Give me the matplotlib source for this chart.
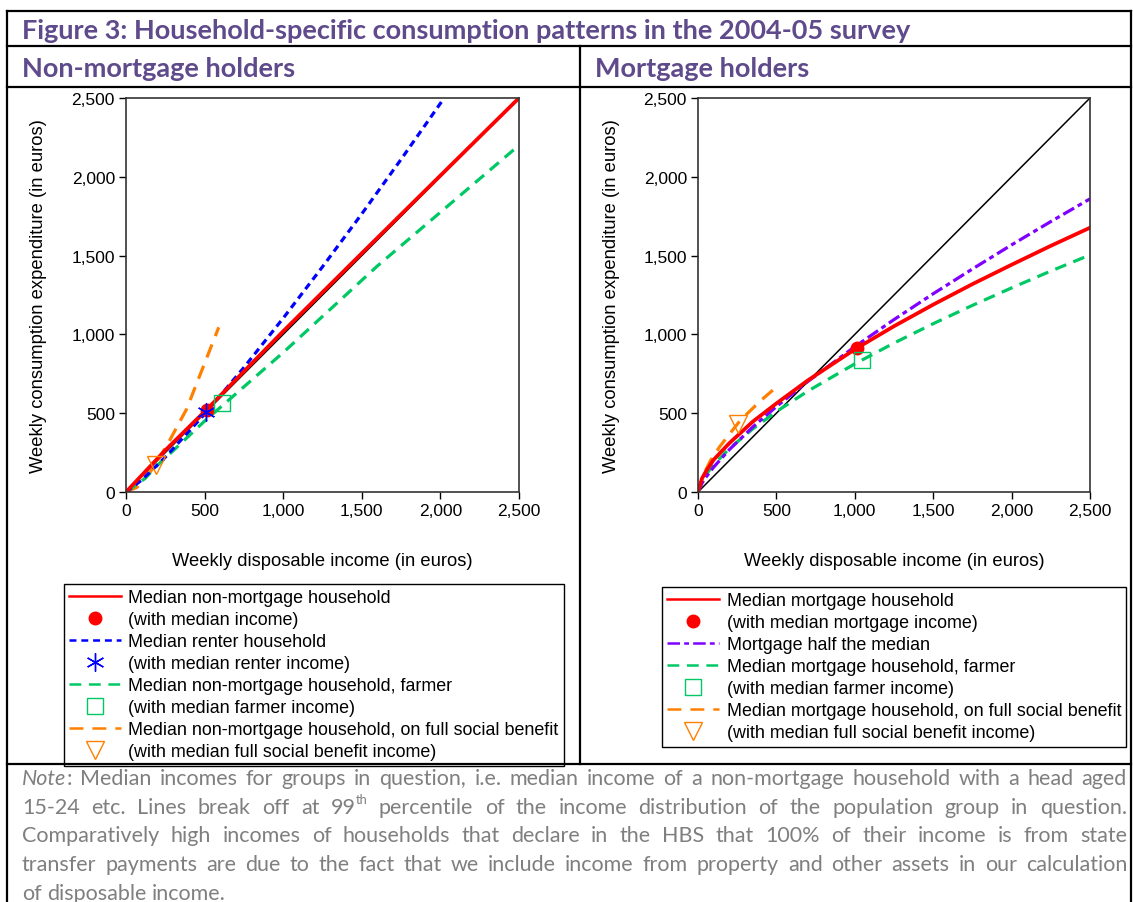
import matplotlib
matplotlib.use("Agg")
import matplotlib.pyplot as plt
from matplotlib.lines import Line2D
from matplotlib.ticker import FuncFormatter

W, H = 1133, 903
plt.rcParams['font.family'] = ['Liberation Sans', 'DejaVu Sans']
plt.rcParams['lines.scale_dashes'] = False

# ---- data (weekly income, weekly consumption, euros) ----
diag = [0, 2500]

# non-mortgage holders
nm_median_x = [0, 250, 515, 1000, 1500, 2000, 2500]
nm_median_y = [0, 265, 525, 1020, 1515, 2008, 2500]
nm_renter_x = [0, 100, 250, 500, 750, 1000, 1250, 1500, 1750, 2010]
nm_renter_y = [0, 76, 221, 494, 790, 1103, 1429, 1765, 2111, 2480]
nm_farmer_x = [0, 120, 200, 300, 500, 1000, 1600, 2500]
nm_farmer_y = [0, 85, 170, 262, 450, 885, 1435, 2200]
nm_social_x = [0, 70, 150, 260, 385, 590]
nm_social_y = [0, 30, 120, 295, 525, 1045]
nm_pt_median = (515, 522)
nm_pt_renter = (509, 505)
nm_pt_farmer = (611, 562)
nm_pt_social = (191, 171)

# mortgage holders
m_median_x = [0, 25, 50, 100, 200, 350, 500, 700, 1000, 1250, 1500, 1750, 2000, 2250, 2500]
m_median_y = [0, 85, 130, 205, 310, 447, 562, 708, 905, 1052, 1189, 1319, 1442, 1562, 1677]
m_half_x = [0, 25, 50, 100, 200, 350, 500, 700, 1000, 1250, 1500, 1750, 2000, 2250, 2500]
m_half_y = [0, 55, 93, 158, 269, 413, 542, 701, 922, 1094, 1258, 1415, 1568, 1716, 1860]
m_farmer_x = [0, 25, 50, 100, 200, 350, 500, 700, 1000, 1250, 1500, 1750, 2000, 2250, 2500]
m_farmer_y = [0, 68, 109, 173, 276, 401, 510, 640, 813, 945, 1068, 1184, 1295, 1402, 1504]
m_social_x = [0, 30, 80, 140, 270, 400, 505]
m_social_y = [0, 100, 200, 290, 455, 580, 670]
m_pt_median = (1014, 912)
m_pt_farmer = (1046, 838)
m_pt_social = (257, 431)

ticks = [0, 500, 1000, 1500, 2000, 2500]

nm_labels = ["Median non-mortgage household", "(with median income)",
             "Median renter household", "(with median renter income)",
             "Median non-mortgage household, farmer", "(with median farmer income)",
             "Median non-mortgage household, on full social benefit",
             "(with median full social benefit income)"]
m_labels = ["Median mortgage household", "(with median mortgage income)",
            "Mortgage half the median",
            "Median mortgage household, farmer", "(with median farmer income)",
            "Median mortgage household, on full social benefit",
            "(with median full social benefit income)"]

RED, BLUE, GREEN, ORANGE, PURPLE = '#FF0000', '#0000FF', '#00C864', '#FF8000', '#8000FF'
HEAD = '#5F4A8B'
GREY = '#7F7F7F'

STY = {
    'red': dict(color=RED, lw=2.7, ls='-'),
    'blue': dict(color=BLUE, lw=2.3, dashes=(5, 3.5)),
    'green': dict(color=GREEN, lw=2.3, dashes=(8.5, 5.5)),
    'orange': dict(color=ORANGE, lw=2.3, dashes=(10, 6.5)),
    'purple': dict(color=PURPLE, lw=2.3, dashes=(9, 3, 3.5, 3)),
}
MK = {
    'circle': dict(marker='o', ms=9, color=RED, mec=RED, ls='none'),
    'star': dict(marker=(6, 2, 0), ms=13, color=BLUE, mew=1.0, ls='none'),
    'square': dict(marker='s', ms=11, mfc='none', mec=GREEN, mew=1.0, ls='none'),
    'tri': dict(marker='v', ms=13, mfc='none', mec=ORANGE, mew=1.0, ls='none'),
}

fig = plt.figure(figsize=(W / 100, H / 100), dpi=100)


def fx(px):
    return px / W


def fy(py):
    return 1 - py / H


def fline(xs, ys, lw=1.6):
    fig.add_artist(Line2D([fx(x) for x in xs], [fy(y) for y in ys], color='black',
                          lw=lw, transform=fig.transFigure, zorder=10))


# table frame
fline([7, 1131], [12, 12])
fline([7, 7], [12, 903])
fline([1131, 1131], [12, 903])
fline([7, 1131], [47, 47])
fline([7, 1131], [88, 88])
fline([7, 1131], [765, 765])
fline([580, 580], [47, 765])

head_kw = dict(family=['Lato', 'DejaVu Sans'], weight='bold', color=HEAD, va='center', ha='left')
fig.text(fx(22), fy(31), "Figure 3: Household-specific consumption patterns in the 2004-05 survey",
         fontsize=19.5, **head_kw)
fig.text(fx(22), fy(69), "Non-mortgage holders", fontsize=19.5, **head_kw)
fig.text(fx(595), fy(69), "Mortgage holders", fontsize=19.5, **head_kw)


def setup_axes(ax):
    ax.set_xlim(0, 2500)
    ax.set_ylim(0, 2500)
    ax.set_xticks(ticks)
    ax.set_yticks(ticks)
    fmt = FuncFormatter(lambda v, p: f'{v:,.0f}')
    ax.xaxis.set_major_formatter(fmt)
    ax.yaxis.set_major_formatter(fmt)
    ax.tick_params(direction='out', length=5, width=1, labelsize=12.5, pad=3)
    for s in ax.spines.values():
        s.set_color('#333333')
        s.set_linewidth(1.2)
    ax.set_xlabel('Weekly disposable income (in euros)', fontsize=13.2)
    ax.set_ylabel('Weekly consumption expenditure (in euros)', fontsize=13.2)
    ax.xaxis.set_label_coords(0.5, -0.152)
    ax.yaxis.set_label_coords(-0.2, 0.5)


axL = fig.add_axes([fx(126), fy(493), (519 - 126) / W, (493 - 99) / H])
axR = fig.add_axes([fx(698), fy(493), (1090 - 698) / W, (493 - 99) / H])

# left panel
axL.plot(diag, diag, color='black', lw=1.1)
axL.plot(nm_social_x, nm_social_y, **STY['orange'])
axL.plot(nm_farmer_x, nm_farmer_y, **STY['green'])
axL.plot(nm_renter_x, nm_renter_y, **STY['blue'])
axL.plot(nm_median_x, nm_median_y, **STY['red'])
axL.plot(*nm_pt_median, **MK['circle'])
axL.plot(*nm_pt_renter, **MK['star'])
axL.plot(*nm_pt_farmer, **MK['square'])
axL.plot(*nm_pt_social, **MK['tri'])
setup_axes(axL)

# right panel
axR.plot(diag, diag, color='black', lw=1.1)
axR.plot(m_social_x, m_social_y, **STY['orange'])
axR.plot(m_farmer_x, m_farmer_y, **STY['green'])
axR.plot(m_half_x, m_half_y, **STY['purple'])
axR.plot(m_median_x, m_median_y, **STY['red'])
axR.plot(*m_pt_median, **MK['circle'])
axR.plot(*m_pt_farmer, **MK['square'])
axR.plot(*m_pt_social, **MK['tri'])
setup_axes(axR)


def lh(key):
    kw = dict(STY[key])
    kw['lw'] = 1.8
    return Line2D([], [], **kw)


def mh(key):
    return Line2D([], [], **MK[key])


leg_kw = dict(loc='upper left', fontsize=12.9, frameon=True, fancybox=False, framealpha=1,
              edgecolor='black', handlelength=2.9, handletextpad=0.4, labelspacing=0.28,
              borderpad=0.3, borderaxespad=0)
legL = fig.legend([lh('red'), mh('circle'), lh('blue'), mh('star'), lh('green'), mh('square'),
                   lh('orange'), mh('tri')], nm_labels,
                  bbox_to_anchor=(fx(64), fy(585)), **leg_kw)
legR = fig.legend([lh('red'), mh('circle'), lh('purple'), lh('green'), mh('square'),
                   lh('orange'), mh('tri')], m_labels,
                  bbox_to_anchor=(fx(662), fy(588)), **leg_kw)
for lg in (legL, legR):
    lg.get_frame().set_linewidth(1.0)

# note, justified word by word
note_lines = [
    [[("Note", 'i'), (":", 'n')], "Median", "incomes", "for", "groups", "in", "question,", "i.e.", "median",
     "income", "of", "a", "non-mortgage", "household", "with", "a", "head", "aged"],
    ["15-24", "etc.", "Lines", "break", "off", "at", [("99", 'n'), ("th", 'sup')], "percentile", "of", "the",
     "income", "distribution", "of", "the", "population", "group", "in", "question."],
    ["Comparatively", "high", "incomes", "of", "households", "that", "declare", "in", "the", "HBS", "that",
     "100%", "of", "their", "income", "is", "from", "state"],
    ["transfer", "payments", "are", "due", "to", "the", "fact", "that", "we", "include", "income", "from",
     "property", "and", "other", "assets", "in", "our", "calculation"],
    ["of", "disposable", "income."],
]
note_base = [785, 814, 842, 871, 900]
NOTE_FONT = ['Lato', 'DejaVu Sans']
NOTE_SIZE = 15.5

renderer = fig.canvas.get_renderer()
for li, (line, yb) in enumerate(zip(note_lines, note_base)):
    pieces = []
    for word in line:
        if isinstance(word, str):
            word = [(word, 'n')]
        segs = []
        for text, kind in word:
            kw = dict(fontsize=NOTE_SIZE, color=GREY, family=NOTE_FONT, va='baseline', ha='left')
            if kind == 'i':
                kw['style'] = 'italic'
            if kind == 'sup':
                kw['fontsize'] = NOTE_SIZE * 0.6
            t = fig.text(0, 0, text, **kw)
            segs.append((t, t.get_window_extent(renderer).width, kind))
        pieces.append(segs)
    widths = [sum(s[1] for s in segs) for segs in pieces]
    if li < len(note_lines) - 1:
        gap = (1127 - 22 - sum(widths)) / (len(pieces) - 1)
    else:
        gap = NOTE_SIZE * 1.39 * 0.25
    x = 22
    for segs, wd in zip(pieces, widths):
        for t, w, kind in segs:
            yy = yb - (NOTE_SIZE * 1.39 * 0.45 if kind == 'sup' else 0)
            t.set_position((fx(x), fy(yy)))
            x += w
        x += gap

fig.savefig('out.png', dpi=100)
